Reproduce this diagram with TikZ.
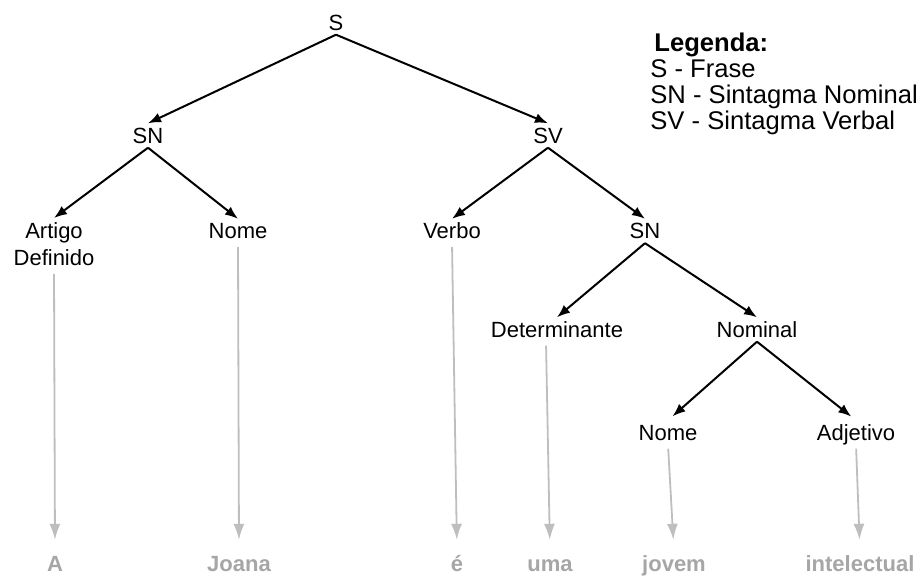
\documentclass[tikz,border=0pt]{standalone}
\usepackage{fontspec}
\setmainfont{Liberation Sans}
\usetikzlibrary{arrows.meta}

\definecolor{wordgray}{RGB}{166,166,166}
\definecolor{linkgray}{RGB}{190,190,190}

\begin{document}
\begin{tikzpicture}[
    x = 0.5pt,
    y = -0.5pt,
    >={Latex[length=6.5pt,width=5pt]},
    phrase/.style = {font=\fontsize{11}{13.5}\selectfont, text height=7.8pt,
    text depth=0pt, inner sep=2pt},
    word/.style = {font=\fontsize{11}{13.5}\selectfont\bfseries, text=wordgray,
    text height=7.8pt, text depth=0pt, inner sep=2pt},
    legend/.style = {font=\fontsize{12.8}{13}\selectfont, align=left,
    inner sep=0pt},
    branch/.style = {->, line width=1pt},
    link/.style = {-{Latex[length=8pt,width=5.5pt]}, linkgray, line width=0.9pt,
    shorten <=2pt, shorten >=6pt},
]

\useasboundingbox (0,0) rectangle (922,577);

% tree
\node[phrase] (s) at (336,22.5){S};
    \node[phrase] (sn_0) at (148,135.5){SN};
    \node[phrase] (sv_0) at (548,135.5){SV};
    \node[phrase, text height=, text depth=, align=center, anchor=north]
        (art_0) at (54,218){Artigo\\Definido};
    \node[phrase] (nome_0) at (238,231){Nome};
    \node[phrase] (verbo_0) at (452,231){Verbo};
    \node[phrase] (sn_1) at (645,231){SN};
    \node[phrase] (det_0) at (557,329.5){Determinante};
    \node[phrase] (nominal_0) at (757,329.5){Nominal};
    \node[phrase] (nome_1) at (668,432.5){Nome};
    \node[phrase] (adj_0) at (856,432.5){Adjetivo};

% words
\node[word] (word_0) at (55,564){A};
    \node[word] (word_1) at (239,564){Joana};
    \node[word] (word_2) at (457,564){é};
    \node[word] (word_3) at (550,564){uma};
    \node[word] (word_4) at (674,564){jovem};
    \node[word] (word_5) at (860,564){intelectual};

\node[legend, anchor=north west] (legend) at (650,33){\hspace*{2pt}\textbf{Legenda:}\\S - Frase\\SN - Sintagma Nominal\\SV - Sintagma Verbal};

\draw [branch] (s.south) -- (sn_0.north);
\draw [branch] (s.south) -- (sv_0.north);
\draw [branch] (sn_0.south) -- (art_0.north);
\draw [branch] (sn_0.south) -- (nome_0.north);
\draw [branch] (sv_0.south) -- (verbo_0.north);
\draw [branch] (sv_0.south) -- (sn_1.north);
\draw [branch] (sn_1.south) -- (det_0.north);
\draw [branch] (sn_1.south) -- (nominal_0.north);
\draw [branch, shorten >=3pt] (nominal_0.south) -- (nome_1.north);
\draw [branch, shorten >=3pt] (nominal_0.south) -- (adj_0.north);

\draw [link] (art_0.south) -- (word_0.north);
\draw [link] (nome_0.south) -- (word_1.north);
\draw [link] (verbo_0.south) -- (word_2.north);
\draw [link] ([xshift=-5.5pt]det_0.south) -- (word_3.north);
\draw [link] (nome_1.south) -- (word_4.north);
\draw [link] (adj_0.south) -- (word_5.north);

\end{tikzpicture}
\end{document}
